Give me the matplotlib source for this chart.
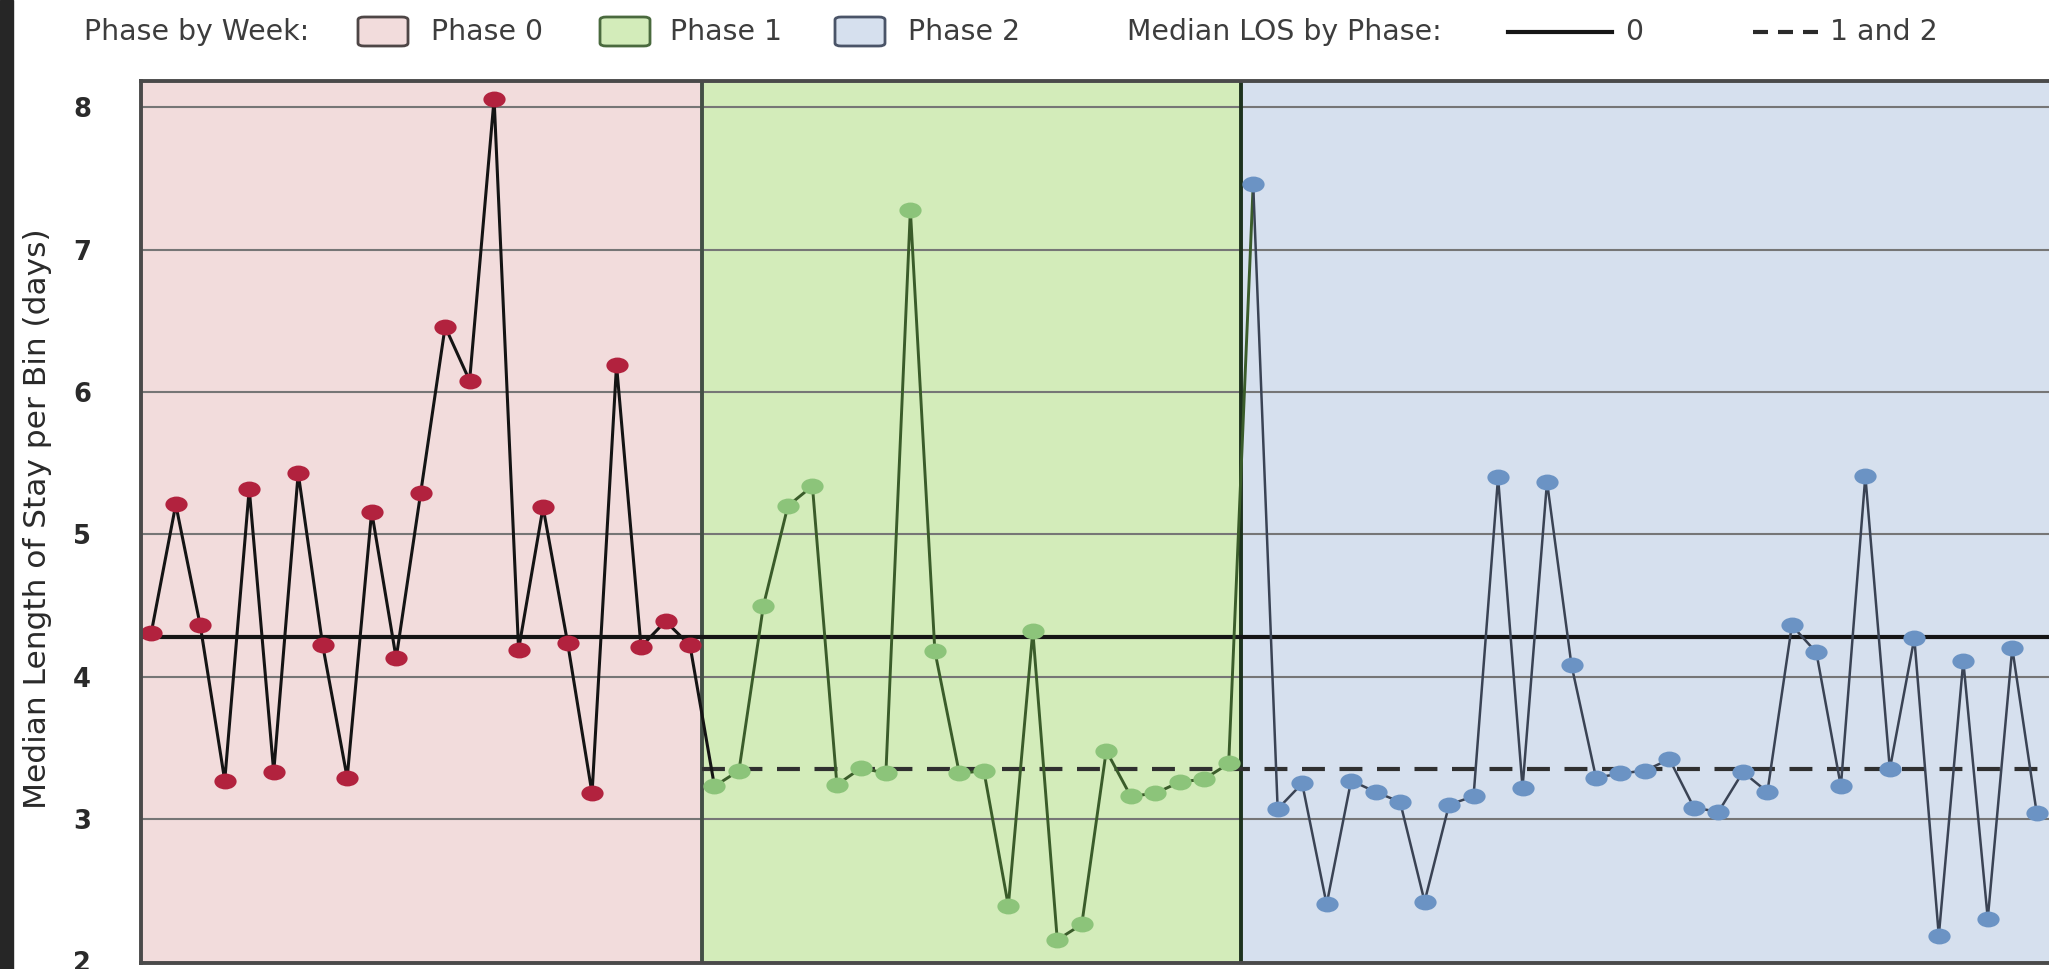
import numpy as np
import matplotlib
matplotlib.use('Agg')
import matplotlib.pyplot as plt
from matplotlib.path import Path
from matplotlib.patches import FancyBboxPatch, Rectangle
from matplotlib.lines import Line2D
from matplotlib.transforms import Affine2D
from matplotlib import font_manager

# ---------------- data ----------------
phase0_los = [4.31, 5.21, 4.36, 3.27, 5.32, 3.33, 5.43, 4.22, 3.29, 5.16, 4.13, 5.29,
              6.46, 6.08, 8.06, 4.19, 5.19, 4.24, 3.18, 6.19, 4.21, 4.39, 4.22]
phase1_los = [3.23, 3.34, 4.50, 5.20, 5.34, 3.24, 3.36, 3.32, 7.28, 4.18, 3.32, 3.34,
              2.39, 4.32, 2.15, 2.26, 3.48, 3.16, 3.18, 3.26, 3.28, 3.39]
phase2_los = [7.46, 3.07, 3.25, 2.40, 3.27, 3.19, 3.12, 2.42, 3.10, 3.16, 5.40, 3.22,
              5.37, 4.08, 3.29, 3.32, 3.34, 3.42, 3.08, 3.05, 3.33, 3.19, 4.36, 4.17,
              3.23, 5.41, 3.35, 4.27, 2.18, 4.11, 2.30, 4.20, 3.04]
median_phase0 = 4.28
median_phase12 = 3.35
y_ticks = [2, 3, 4, 5, 6, 7, 8]
y_label = "Median Length of Stay per Bin (days)"
phase_names = ["Phase 0", "Phase 1", "Phase 2"]

# ---------------- style ----------------
W, H = 2049, 969
bg_cols = ['#F2DCDC', '#D3ECBA', '#D6E0EE']
mk_cols = ['#B2223E', '#8CC47A', '#6B93C4']
ln_cols = ['#141414', '#3A5C2A', '#3A4354']
box_edges = ['#4E4646', '#4A6A3E', '#4A5468']
txt_col = '#3D3D3D'

names = {f.name for f in font_manager.fontManager.ttflist}
narrow = 'Liberation Sans Narrow' if 'Liberation Sans Narrow' in names else 'DejaVu Sans'

fig = plt.figure(figsize=(W / 100, H / 100), dpi=100)
fig.patch.set_facecolor('white')

def fx(px):
    return px / W

def fy(py):
    return 1 - py / H

ax = fig.add_axes([fx(141), 6 / H, (W - 141) / W, (963 - 81) / H])

n0, n1, n2 = len(phase0_los), len(phase1_los), len(phase2_los)
x0 = np.arange(n0)
x1 = np.arange(n0, n0 + n1)
x2 = np.arange(n0 + n1, n0 + n1 + n2)
b01 = n0 - 0.5
b12 = n0 + n1 - 0.5
xmin, xmax = -0.42, n0 + n1 + n2 - 0.5
ax.set_xlim(xmin, xmax)
ax.set_ylim(1.988, 8.186)

ax.axvspan(xmin, b01, color=bg_cols[0], zorder=0, lw=0)
ax.axvspan(b01, b12, color=bg_cols[1], zorder=0, lw=0)
ax.axvspan(b12, xmax, color=bg_cols[2], zorder=0, lw=0)

for yv in y_ticks[1:]:
    ax.axhline(yv, color='#767676', lw=1.5, zorder=1)

ax.axvline(b01, color='#434F46', lw=2.8, zorder=2)
ax.axvline(b12, color='#1D321D', lw=2.8, zorder=2)

ax.axhline(median_phase0, color='#151515', lw=3.0, zorder=3)
ax.plot([b01, xmax], [median_phase12, median_phase12], color='#303030', lw=3.0,
        dashes=(5.5, 3.5), zorder=3)

ell = Path.unit_circle().transformed(Affine2D().scale(1.4, 1.0))

xs = [x0, x1, x2]
ys = [phase0_los, phase1_los, phase2_los]
lws = [2.2, 2.1, 1.8]
for k in range(3):
    lx = list(xs[k])
    ly = list(ys[k])
    if k < 2:
        lx.append(xs[k + 1][0])
        ly.append(ys[k + 1][0])
    ax.plot(lx, ly, color=ln_cols[k], lw=lws[k], zorder=4)
for k in range(3):
    ax.plot(xs[k], ys[k], ls='none', marker=ell, ms=16, mfc=mk_cols[k],
            mec=mk_cols[k], mew=0, zorder=5)

for s in ['top', 'left', 'bottom']:
    ax.spines[s].set_color('#4A4A4A')
    ax.spines[s].set_linewidth(2.8)
    ax.spines[s].set_zorder(6)
ax.spines['right'].set_visible(False)

ax.set_xticks([])
ax.set_yticks(y_ticks)
ax.set_yticklabels([str(v) for v in y_ticks], fontsize=18.5, fontweight='bold',
                   color='#2A2A2A', family='DejaVu Sans')
ax.tick_params(axis='y', length=0, pad=36)

# left dark strip
fig.patches.append(Rectangle((0, 0), fx(13), 1, transform=fig.transFigure,
                             color='#262626', zorder=10))

renderer = fig.canvas.get_renderer()

# y-axis label fitted to its span
yl = fig.text(fx(38), fy(519), y_label, rotation=90, ha='center', va='center',
              fontsize=20, color='#2A2A2A', family=narrow)
bb = yl.get_window_extent(renderer=renderer)
yl.set_fontsize(20 * 581 / bb.height)

# legend row
legend_texts = [("Phase by Week:", 84), ("Phase 0", 431), ("Phase 1", 670),
                ("Phase 2", 908), ("Median LOS by Phase:", 1127), ("0", 1625),
                ("1 and 2", 1830)]
probe = fig.text(0, 0, "Median LOS by Phase:", fontsize=20, family='DejaVu Sans')
pw = probe.get_window_extent(renderer=renderer).width
probe.remove()
lfs = 20 * 365 / pw * 0.86
for s, xl in legend_texts:
    fig.text(fx(xl), fy(40), s, ha='left', va='baseline', fontsize=lfs,
             color=txt_col, family='DejaVu Sans')

for k, (bx0, bx1) in enumerate([(358, 408), (600, 650), (835, 885)]):
    fig.patches.append(FancyBboxPatch((fx(bx0), fy(46)), fx(bx1 - bx0), (46 - 17) / H,
                                      boxstyle='round,pad=0,rounding_size=0.003',
                                      transform=fig.transFigure, fc=bg_cols[k],
                                      ec=box_edges[k], lw=2))

fig.lines.append(Line2D([fx(1508), fx(1612)], [fy(32), fy(32)], transform=fig.transFigure,
                        color='#161616', lw=3.0))
fig.lines.append(Line2D([fx(1753), fx(1826)], [fy(32), fy(32)], transform=fig.transFigure,
                        color='#2A2A2A', lw=3.0, dashes=(3.6, 2.4)))

fig.savefig('out.png', dpi=100, facecolor='white')
